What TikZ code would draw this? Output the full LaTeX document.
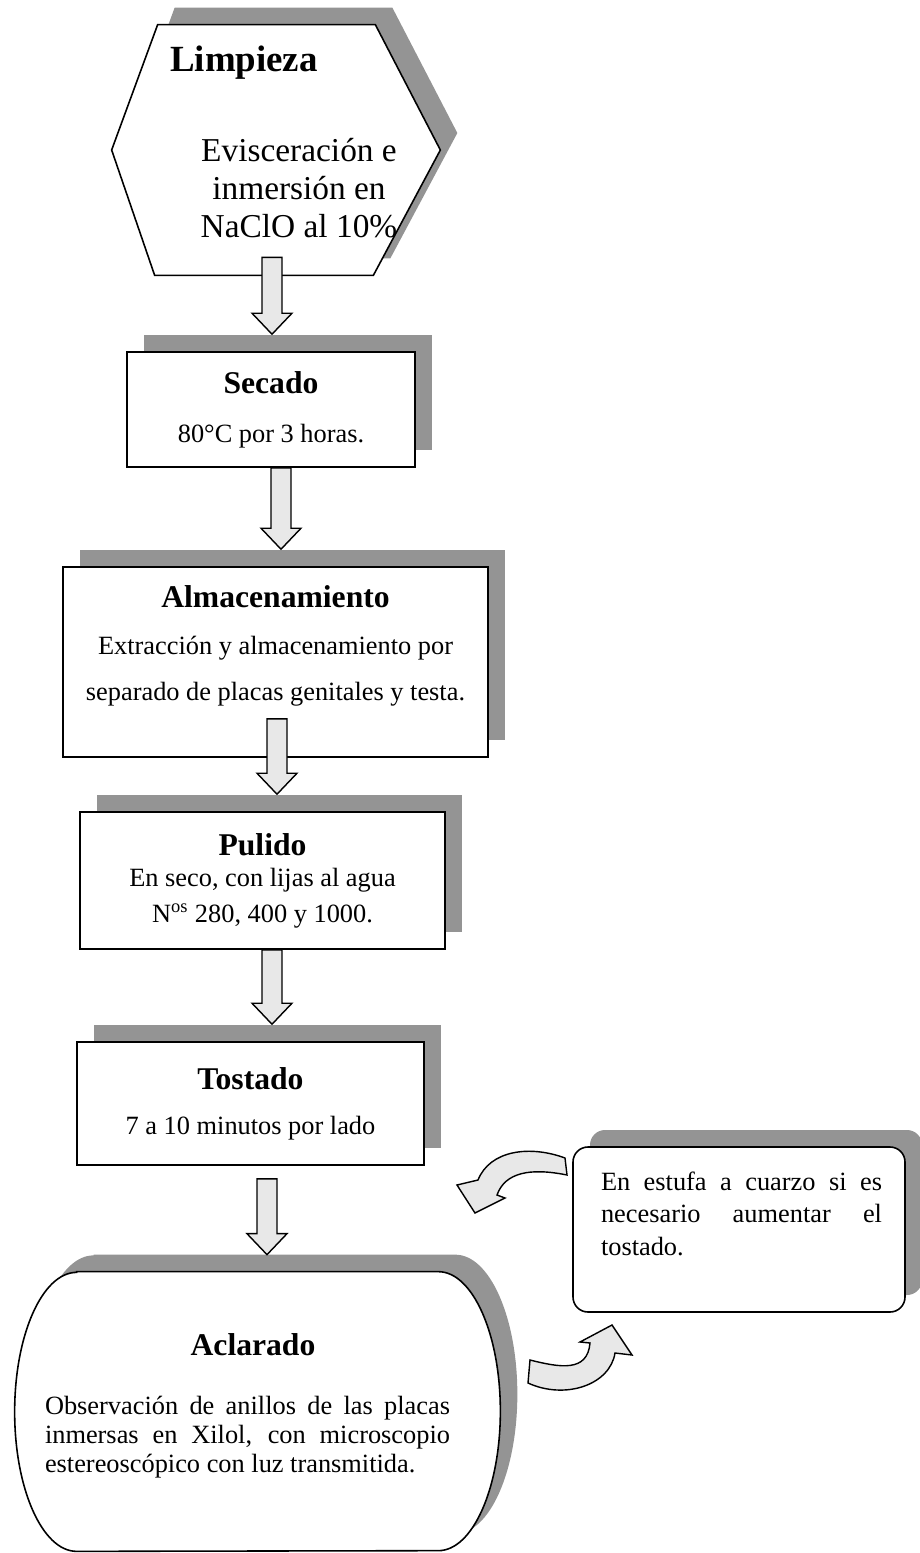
\documentclass[tikz,border=0pt]{standalone}
\usepackage{fontspec}
\setmainfont{Liberation Serif}
\usetikzlibrary{shadows,calc}
\hyphenpenalty=10000
\exhyphenpenalty=10000

\definecolor{shadowGray}{RGB}{148,148,148}
\definecolor{arrowFill}{RGB}{232,232,232}

\newcommand{\boxtitle}[1]{{\bfseries\fontsize{18}{18}\selectfont #1}}
% block arrow: x, from node, overlap into it, to node
\newcommand{\flowarrow}[4]{%
  \coordinate (as) at ($(#1,0 |- #2.south)+(0,#3)$);
  \coordinate (ae) at ($(#1,0 |- #4.north)+(0,.34)$);
  \draw[blockarrow] ($(as)+(-.2,0)$) -- ($(ae)+(-.2,.42)$) -- ($(ae)+(-.4,.42)$) -- (ae)
    -- ($(ae)+(.4,.42)$) -- ($(ae)+(.2,.42)$) -- ($(as)+(.2,0)$) -- cycle;}

\tikzset{
  boxline/.style={draw, line width=.9pt, fill=white,
    drop shadow={shadow xshift=.34cm, shadow yshift=.34cm, fill=shadowGray, opacity=1}},
  stepbox/.style={boxline, rectangle, align=center, font=\fontsize{15}{18}\selectfont},
  blockarrow/.style={draw, line width=.8pt, fill=arrowFill, line join=miter}
}

\begin{document}
\begin{tikzpicture}
  \useasboundingbox (0,0) rectangle (18.38,-31.06);
  % Limpieza
  \node[minimum width=6.56cm, minimum height=5cm] (limp) at (5.52,-3) {};
  \draw[boxline] (limp.west) -- ([xshift=.92cm]limp.north west) -- ([xshift=-1.3cm]limp.north east)
    -- (limp.east) -- ([xshift=-1.34cm]limp.south east) -- ([xshift=.86cm]limp.south west) -- cycle;
  \node[anchor=west, font=\bfseries\fontsize{21}{21}\selectfont] (limptitle) at (3.28,-1.26) {Limpieza};
  \node[align=center, font=\fontsize{19}{21.6}\selectfont] (limptext) at (5.98,-3.76) {Evisceración e\\inmersión en\\NaClO al 10\%};
  % Steps
  \node[stepbox, minimum width=5.76cm, minimum height=2.3cm] (secado) at (5.42,-8.19)
    {\boxtitle{Secado}\\[10pt]80°C por 3 horas.};
  \node[stepbox, minimum width=8.5cm, minimum height=3.8cm, text depth=22pt] (almac) at (5.51,-13.24)
    {\boxtitle{Almacenamiento}\\[9pt]Extracción y almacenamiento por\\[8pt]separado de placas genitales y testa.};
  \node[stepbox, minimum width=7.3cm, minimum height=2.74cm] (pulido) at (5.25,-17.61)
    {\boxtitle{Pulido}\\En seco, con lijas al agua\\[2pt]N\textsuperscript{os} 280, 400 y 1000.};
  \node[stepbox, minimum width=6.94cm, minimum height=2.46cm] (tostado) at (5.01,-22.07)
    {\boxtitle{Tostado}\\[7.5pt]7 a 10 minutos por lado};
  % Aclarado
  \node[minimum width=9.7cm, minimum height=5.58cm] (aclar) at (5.15,-28.23) {};
  \draw[boxline] ([xshift=1.24cm]aclar.north west) -- ([xshift=-1.24cm]aclar.north east)
    arc[start angle=90, end angle=-90, x radius=1.24cm, y radius=2.79cm]
    -- ([xshift=1.24cm]aclar.south west)
    arc[start angle=270, end angle=90, x radius=1.24cm, y radius=2.79cm] -- cycle;
  \node (aclartitle) at (5.06,-26.9) {\boxtitle{Aclarado}};
  \node[text width=8.1cm, align=justify, font=\fontsize{15}{16.5}\selectfont] (aclartext) at (4.95,-28.74)
    {Observación de anillos de las placas inmersas en Xilol, con microscopio estereoscópico con luz transmitida.};
  % Note
  \node[stepbox, rounded corners=.3cm, minimum width=6.64cm, minimum height=3.3cm] (note) at (14.78,-24.59) {};
  \node[anchor=north, text width=5.62cm, align=justify, inner sep=0pt, font=\fontsize{15}{18.5}\selectfont]
    (notetext) at ([xshift=.05cm, yshift=-.5cm]note.north)
    {En estufa a cuarzo si es necesario aumentar el tostado.};
  % Arrows
  \flowarrow{5.44}{limp}{.36}{secado}
  \flowarrow{5.62}{secado}{0}{almac}
  \flowarrow{5.54}{almac}{.78}{pulido}
  \flowarrow{5.44}{pulido}{0}{tostado}
  \flowarrow{5.34}{tostado}{-.26}{aclar}
  \draw[blockarrow] (11.30,-23.16) -- (11.34,-23.50) .. controls (10.6,-23.35) and (10.1,-23.45) .. (9.94,-23.90)
    -- (10.10,-23.96) -- (9.50,-24.26) -- (9.14,-23.70) -- (9.56,-23.60)
    .. controls (9.8,-23.0) and (10.6,-22.9) .. (11.30,-23.16) -- cycle;
  \draw[blockarrow] (10.60,-27.20) .. controls (11.2,-27.35) and (11.75,-27.45) .. (11.80,-26.86)
    -- (11.60,-26.84) -- (12.24,-26.50) -- (12.64,-27.10) -- (12.30,-27.06)
    .. controls (12.2,-27.7) and (11.3,-28.0) .. (10.56,-27.66) -- cycle;
\end{tikzpicture}
\end{document}
